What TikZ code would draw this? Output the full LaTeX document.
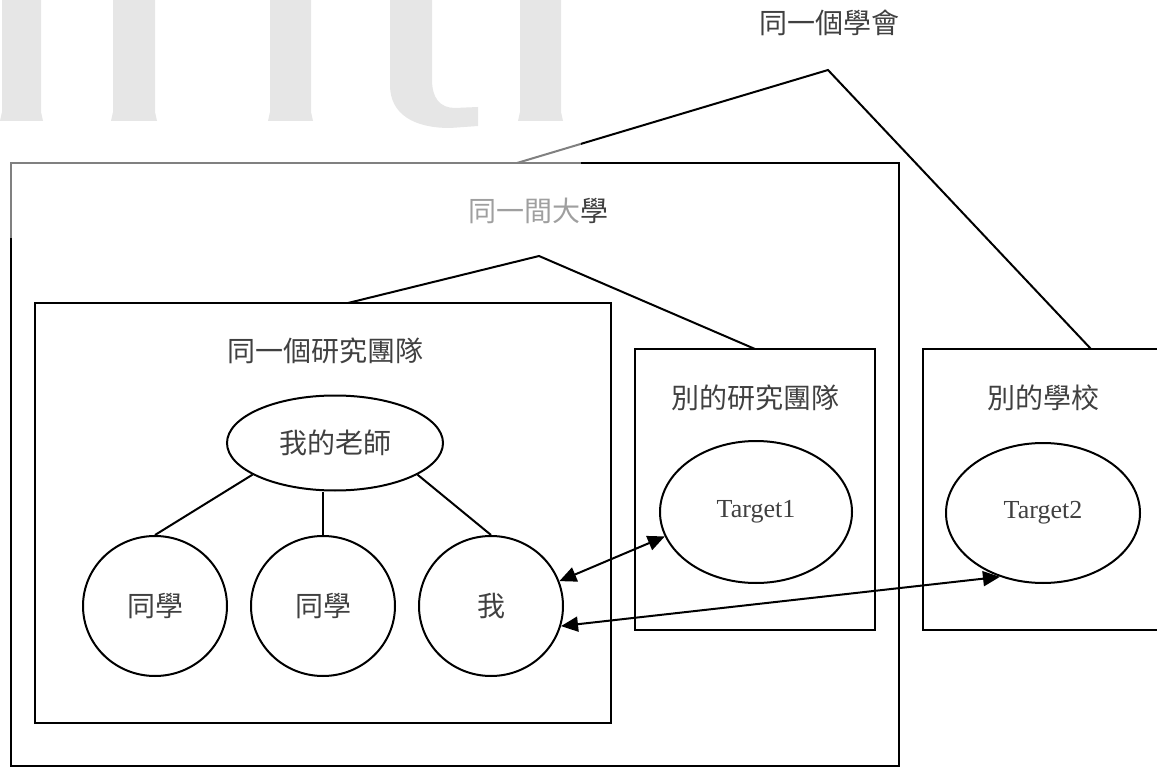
\documentclass[tikz,border=0pt]{standalone}
\usepackage{fontspec}
\setmainfont{Liberation Serif}
\newfontfamily\cjk{Noto Sans CJK TC}
\usetikzlibrary{shapes.geometric,arrows.meta}
\definecolor{txt}{HTML}{404040}
\definecolor{wm}{HTML}{E6E6E6}
\begin{document}
\begin{tikzpicture}[x=1pt,y=-1pt,
  lw/.style={line width=2pt},
  boxn/.style={draw, lw, rectangle, inner sep=0pt},
  ell/.style={draw, lw, ellipse, inner sep=0pt, text=txt, font=\cjk\fontsize{28}{30}\selectfont},
  lbl/.style={text=txt, font=\cjk\fontsize{28}{30}\selectfont, inner sep=0pt},
  tgt/.style={ell, font=\fontsize{26}{28}\selectfont},
  conn/.style={lw},
  dbl/.style={lw, {Triangle[length=17pt,width=15pt]}-{Triangle[length=17pt,width=15pt]}}
]
\useasboundingbox (0,0) rectangle (1157,770);

% boxes
\node[boxn, minimum width=888pt, minimum height=603pt] (uni) at (455,464.5) {};
\node[boxn, minimum width=576pt, minimum height=420pt] (team) at (323,513) {};
\node[boxn, minimum width=240pt, minimum height=281pt] (other) at (755,489.5) {};
\node[boxn, minimum width=240pt, minimum height=281pt] (school) at (1043,489.5) {};

% labels
\node[lbl] (lsoc) at (829,23) {同一個學會};
\node[lbl] (luni) at (538,211) {同一間大學};
\node[lbl] (lteam) at (325,351) {同一個研究團隊};
\node[lbl] (lother) at (755,398) {別的研究團隊};
\node[lbl] (lschool) at (1043,398) {別的學校};

% ellipses
\node[ell, minimum width=216pt, minimum height=95pt] (teacher) at (335,443) {我的老師};
\node[ell, minimum width=144pt, minimum height=140pt] (c1) at (155,606) {同學};
\node[ell, minimum width=144pt, minimum height=140pt] (c2) at (323,606) {同學};
\node[ell, minimum width=144pt, minimum height=140pt] (me) at (491,606) {我};
\node[tgt, minimum width=192pt, minimum height=142pt] (t1) at (756,512) {Target1};
\node[tgt, minimum width=194pt, minimum height=140pt] (t2) at (1043,513) {Target2};

% triangles
\coordinate (apexA) at (828,70);
\coordinate (footA1) at (517,163);
\coordinate (footA2) at (1091,349);
\coordinate (apexB) at (539,256);
\coordinate (footB1) at (348,303);
\coordinate (footB2) at (755,349);
\draw[conn] (footA1) -- (apexA) -- (footA2);
\draw[conn] (footB1) -- (apexB) -- (footB2);

% tree
\draw[conn] (teacher.201) -- (c1.north);
\draw[conn] (c2.north) -- (c2.north |- teacher.south);
\draw[conn] (teacher.-21) -- (me.north);

% arrows
\draw[dbl] (me.20) -- (t1.195);
\draw[dbl] (me.-16) -- (t2.236);

% watermark overlay
\fill[white, opacity=0.5] (0,0) rectangle (581,238);
\foreach \a/\b in {2/41,113/155,270/311,520/561}
  \fill[wm] (\a,-5) -- (\a,112) -- (\a-2,121) -- (\b+2,121) -- (\b,112) -- (\b,-5) -- cycle;
\fill[wm] (390,-5) -- (390,85) .. controls (390,115) and (415,128) .. (450,128) -- (478,126) -- (478,107) -- (455,108) .. controls (440,108) and (432,98) .. (432,80) -- (432,-5) -- cycle;
\end{tikzpicture}
\end{document}
